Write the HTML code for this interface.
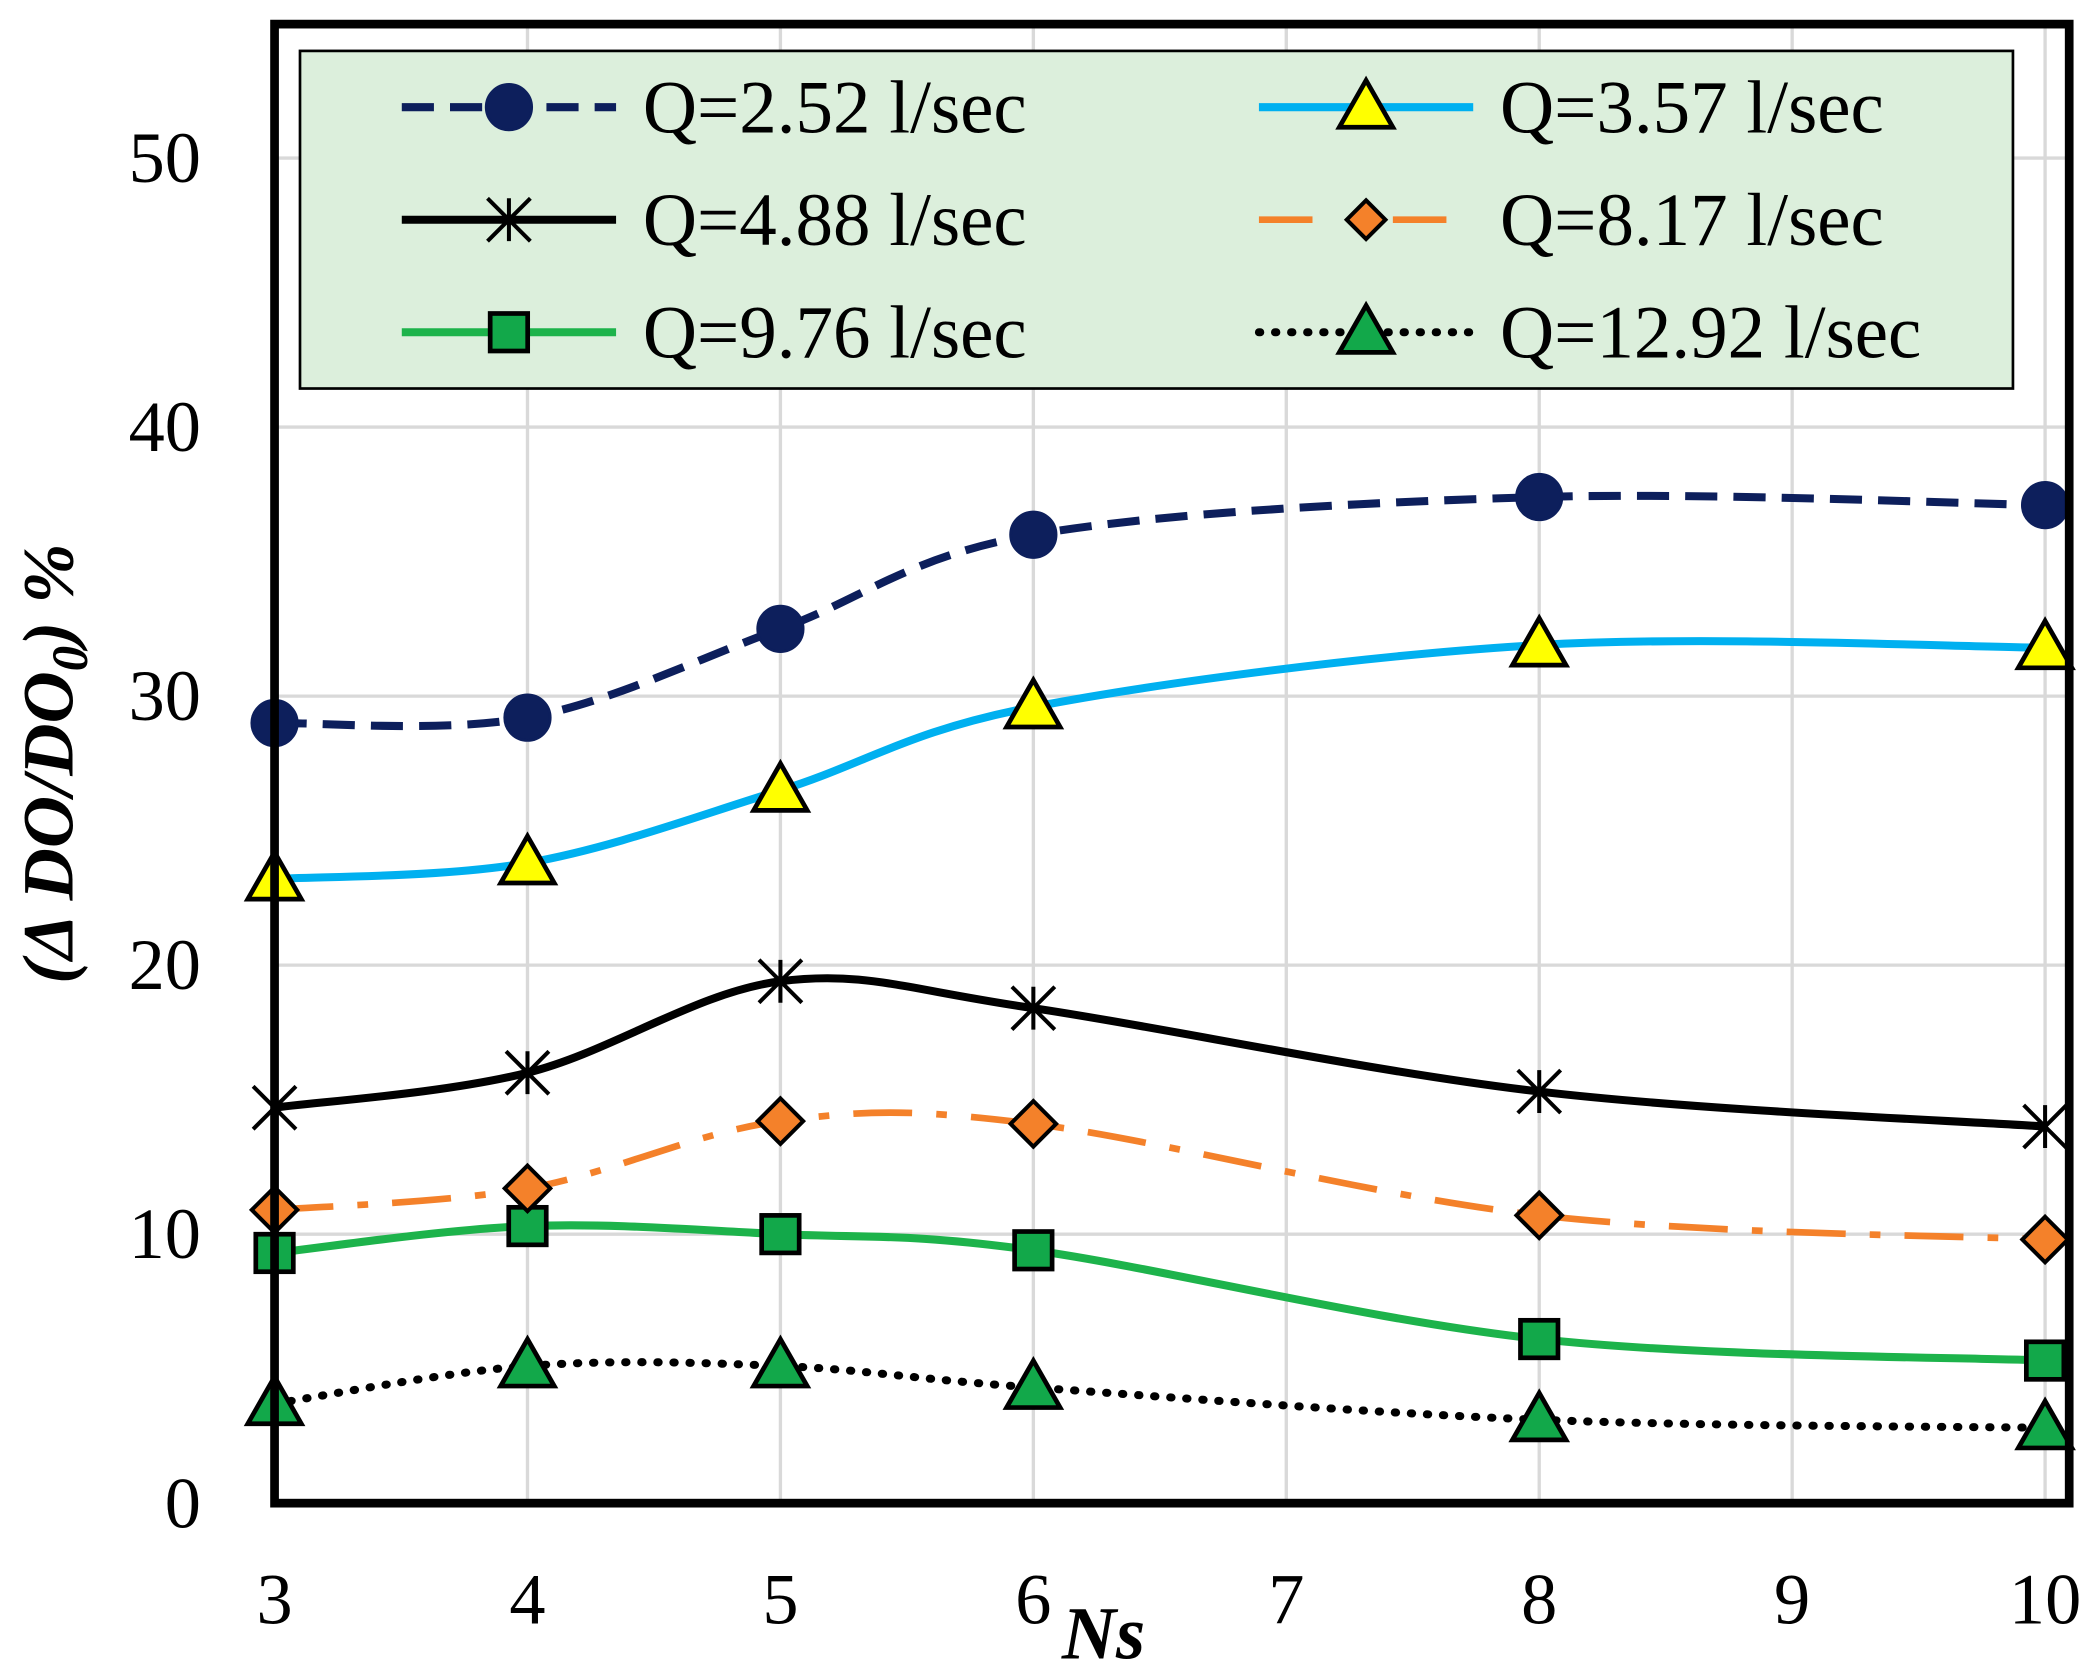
<!DOCTYPE html>
<html><head><meta charset="utf-8"><style>
html,body{margin:0;padding:0;background:#fff}
svg{display:block}
text{font-family:"Liberation Serif",serif;fill:#000}
</style></head><body>
<svg id="chart" width="2100" height="1680" viewBox="0 0 1568 1254" preserveAspectRatio="none" xmlns="http://www.w3.org/2000/svg">
<g id="grid"></g>
<g id="series"></g>
<rect x="205" y="18" width="1340" height="1104" fill="none" stroke="#000" stroke-width="6.5"/>
<g id="ticks"></g>
<text transform="translate(54,570) rotate(-90)" text-anchor="middle" font-size="54" font-weight="bold" font-style="italic">(Δ DO/DO<tspan font-size="38" dy="11">0</tspan><tspan dy="-11">) %</tspan></text>
<text x="824" y="1238" text-anchor="middle" font-size="56" font-weight="bold" font-style="italic">Ns</text>
<g id="legend">
<rect x="224" y="38" width="1279" height="252" fill="#dcefdc" stroke="#000" stroke-width="2"/>
</g>
</svg>
<script>
const categories=[3,4,5,6,8,10];
const labels=["Q=2.52 l/sec","Q=3.57 l/sec","Q=4.88 l/sec","Q=8.17 l/sec","Q=9.76 l/sec","Q=12.92 l/sec"];
const s1=[29,29.2,32.5,36,37.4,37.1];
const s2=[23.2,23.8,26.5,29.6,31.9,31.8];
const s3=[14.7,16,19.4,18.4,15.3,14];
const s4=[10.9,11.7,14.2,14.1,10.7,9.8];
const s5=[9.3,10.3,10,9.4,6.1,5.3];
const s6=[3.7,5.1,5.1,4.3,3.1,2.8];
const xTicks=[3,4,5,6,7,8,9,10];
const yTicks=[0,10,20,30,40,50];
const NS="http://www.w3.org/2000/svg";
const X=v=>205+(v-3)*(1527-205)/7;
const Y=v=>1122-v*(1122-118)/50;
function el(t,a,p){const e=document.createElementNS(NS,t);for(const k in a)e.setAttribute(k,a[k]);p.appendChild(e);return e;}
const grid=document.getElementById('grid'),ticks=document.getElementById('ticks'),ser=document.getElementById('series'),leg=document.getElementById('legend');
xTicks.forEach(v=>{const l=el('line',{x1:X(v),x2:X(v),y1:18,y2:1122,stroke:'#d9d9d9','stroke-width':2.5},grid);

const t=el('text',{x:X(v),y:1212,'text-anchor':'middle','font-size':54},ticks);t.textContent=v;
});
yTicks.forEach(v=>{if(v>0){const l=el('line',{x1:205,x2:1545,y1:Y(v),y2:Y(v),stroke:'#d9d9d9','stroke-width':2.5},grid);
}
const t=el('text',{x:150,y:Y(v)+18,'text-anchor':'end','font-size':54},ticks);t.textContent=v;
});
function path(vals){const p=categories.map((c,i)=>[X(c),Y(vals[i])]);let d='M'+p[0];
for(let i=0;i<p.length-1;i++){const p0=p[i-1]||p[i],p1=p[i],p2=p[i+1],p3=p[i+2]||p2;
const c1=[p1[0]+(p2[0]-p0[0])/6,p1[1]+(p2[1]-p0[1])/6],c2=[p2[0]-(p3[0]-p1[0])/6,p2[1]-(p3[1]-p1[1])/6];
d+=' C'+c1+' '+c2+' '+p2;}return d;}
const styles=[
{c:'#0d1f5c',w:6,da:'24 12',m:'circle',f:'#0d1f5c',ms:'#0d1f5c'},
{c:'#00b0f0',w:6,da:'',m:'tri',f:'#ffff00',ms:'#000'},
{c:'#000',w:6,da:'',m:'star',f:'#000',ms:'#000'},
{c:'#f4812a',w:5,da:'44 18 8 18',m:'diamond',f:'#f4812a',ms:'#000'},
{c:'#1db34b',w:6,da:'',m:'square',f:'#12a84a',ms:'#000'},
{c:'#000',w:6,da:'1 11',m:'tri',f:'#12a84a',ms:'#000',cap:'round'}];
function marker(type,x,y,st,g,sz){sz=sz||1;let e;
if(type==='circle')e=el('circle',{cx:x,cy:y,r:17*sz,fill:st.f,stroke:st.ms,'stroke-width':2},g);
else if(type==='tri'){const r=20*sz;e=el('polygon',{points:`${x},${y-r} ${x+r*1.0},${y+r*0.75} ${x-r*1.0},${y+r*0.75}`,fill:st.f,stroke:'#000','stroke-width':3.5},g);}
else if(type==='square'){const r=14*sz;e=el('rect',{x:x-r,y:y-r,width:2*r,height:2*r,fill:st.f,stroke:'#000','stroke-width':3.5},g);}
else if(type==='diamond'){const r=17*sz;e=el('polygon',{points:`${x},${y-r} ${x+r},${y} ${x},${y+r} ${x-r},${y}`,fill:st.f,stroke:'#000','stroke-width':3},g);}
else{const r=16*sz;e=el('path',{d:`M${x-r},${y-r}L${x+r},${y+r}M${x-r},${y+r}L${x+r},${y-r}M${x},${y-r}L${x},${y+r}`,stroke:'#000','stroke-width':3,fill:'none'},g);}
return e;}
const all=[s1,s2,s3,s4,s5,s6];
all.slice().reverse().forEach((vals,ri)=>{const i=5-ri,st=styles[i];
const g=el('g',{},ser);
const l=el('path',{d:path(vals),fill:'none',stroke:st.c,'stroke-width':st.w,'stroke-dasharray':st.da,'stroke-linecap':st.cap||'butt'},g);

vals.forEach((v,k)=>{const m=marker(st.m,X(categories[k]),Y(v),st,g);
});});
const legPos=[[300,80],[940,80],[300,164],[940,164],[300,248],[940,248]];
labels.forEach((lb,i)=>{const st=styles[i],[x,y]=legPos[i];
const g=el('g',{},leg);
el('line',{x1:x,x2:x+160,y1:y,y2:y,stroke:st.c,'stroke-width':st.w,'stroke-dasharray':i===3?'40 60 40':st.da,'stroke-linecap':st.cap||'butt'},g);
marker(st.m,x+80,y,st,g,st.m==='diamond'?0.85:1);
const t=el('text',{x:x+180,y:y+19,'font-size':56},g);t.textContent=lb;});
</script>
</body></html>
